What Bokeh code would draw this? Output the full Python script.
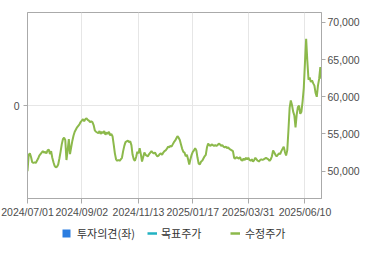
from bokeh.plotting import figure
from bokeh.layouts import column
from bokeh.models import Range1d, LinearAxis, FixedTicker, NumeralTickFormatter, Legend, LegendItem
from bokeh.embed import file_html
from bokeh.resources import INLINE

# adjusted close price (수정주가), one value per trading day 2024/07/01 .. 2025/07
prices = [
    50000, 52200, 52400, 51900, 51200, 51100, 51200, 51100, 51400, 51700,
    52100, 52300, 52500, 52700, 52500, 52600, 52400, 52800, 52900, 52300,
    52700, 51800, 51200, 50700, 50500, 50600, 50900, 51700, 52600, 53600,
    54300, 54500, 54200, 51500, 52800, 54300, 52300, 53200, 54100, 54800,
    55300, 55600, 55900, 56100, 56300, 56600, 56800, 57000, 56700, 57000,
    57100, 56900, 56800, 56600, 56700, 56600, 56200, 55500, 55300, 55200,
    55100, 55400, 55000, 55300, 55100, 55400, 54900, 55200, 55000, 55300,
    54800, 55000, 54700, 53600, 52400, 51600, 51400, 51500, 51400, 51600,
    51800, 52700, 53400, 53900, 54000, 54100, 53900, 54000, 53500, 52200,
    51600, 51400, 51900, 52600, 52400, 53100, 52300, 51300, 51900, 52500,
    52200, 52100, 52000, 52300, 52500, 52700, 52500, 52400, 52500, 52200,
    52000, 52100, 52300, 52400, 52200, 52500, 52700, 52800, 53000, 53300,
    53200, 53400, 53300, 53600, 53900, 54100, 54400, 54700, 54500, 54200,
    53600, 53000, 52600, 52500, 52000, 52200, 51600, 50900, 51600, 52200,
    52600, 52800, 53100, 52800, 51800, 51000, 50900, 51300, 51400, 51700,
    52000, 52200, 53200, 53700, 53500, 53400, 53600, 53500, 53400, 53500,
    53400, 53500, 53700, 53600, 53400, 53500, 53300, 53200, 53300, 53100,
    53200, 53000, 52900, 52800, 52700, 51800, 51700, 51900, 51800, 51700,
    51900, 51500, 51400, 51700, 51500, 51800, 51600, 51800, 51500, 51400,
    51600, 51300, 51500, 51800, 51600, 51400, 51300, 51500, 51600, 51500,
    51600, 51700, 51800, 51700, 51600, 51400, 51600, 52000, 52800, 52500,
    52200, 52000, 52200, 52400, 52300, 52700, 53000, 53300, 52600, 52100,
    52800, 55500, 58500, 59500, 58900, 58000, 57500, 55900, 57600, 58600,
    58800, 57700, 58000, 59400, 61200, 64600, 67800, 64800, 62300, 62600,
    62000, 62200, 61800, 61500, 60500, 60000, 61500, 62400, 64000, 62400,
]

# investment opinion and target price: no values in this period
opinions = [float("nan")]
targets = [float("nan")]

x_ticks = [0, 46, 94, 140, 187, 235]
x_labels = ["2024/07/01", "2024/09/02", "2024/11/13", "2025/01/17", "2025/03/31", "2025/06/10"]
price_ticks = [50000, 55000, 60000, 65000, 70000]
opinion_ticks = [0]
legend_labels = ["투자의견(좌)", "목표주가", "수정주가"]

GREEN = "#8cb94b"
TEAL = "#22b2c2"
BLUE = "#2b7de0"
AXIS = "#aaaaaa"
TXT = "#4d4d4d"
TICK_FONT = "Liberation Sans"
TICK_SIZE = "10.5px"

p = figure(width=370, height=220, output_backend="svg", toolbar_location=None,
           x_range=Range1d(0, len(prices) - 1), y_range=Range1d(-1, 1),
           min_border_left=27, min_border_right=49, min_border_top=12, min_border_bottom=19,
           x_axis_location="below", y_axis_location="left")
p.background_fill_color = "white"
p.border_fill_color = "white"
p.outline_line_color = AXIS
p.outline_line_width = 1

p.extra_y_ranges = {"price": Range1d(46330, 71325)}

# x axis
xa = p.xaxis[0]
xa.ticker = FixedTicker(ticks=x_ticks)
xa.major_label_overrides = {t: l for t, l in zip(x_ticks, x_labels)}
xa.minor_tick_line_color = None
xa.major_tick_out = 5
xa.major_tick_in = 0
xa.axis_line_color = AXIS
xa.major_tick_line_color = AXIS
xa.major_label_text_font = TICK_FONT
xa.major_label_text_font_size = TICK_SIZE
xa.major_label_text_color = TXT
xa.major_label_standoff = 2

# left axis (opinion)
ya = p.yaxis[0]
ya.ticker = FixedTicker(ticks=opinion_ticks)
ya.minor_tick_line_color = None
ya.major_tick_out = 4
ya.major_tick_in = 0
ya.axis_line_color = AXIS
ya.major_tick_line_color = AXIS
ya.major_label_text_font = TICK_FONT
ya.major_label_text_font_size = TICK_SIZE
ya.major_label_text_color = TXT
ya.major_label_standoff = 4

# right axis (price)
ra = LinearAxis(y_range_name="price", ticker=FixedTicker(ticks=price_ticks),
                formatter=NumeralTickFormatter(format="0,0"))
ra.minor_tick_line_color = None
ra.major_tick_out = 4
ra.major_tick_in = 0
ra.axis_line_color = AXIS
ra.major_tick_line_color = AXIS
ra.major_label_text_font = TICK_FONT
ra.major_label_text_font_size = TICK_SIZE
ra.major_label_text_color = TXT
ra.major_label_standoff = 2
p.add_layout(ra, "right")

p.xgrid.grid_line_color = "#e6e6e6"
p.ygrid.grid_line_color = "#e6e6e6"

p.line(x=list(range(len(prices))), y=prices, line_color=GREEN, line_width=2,
       y_range_name="price")

# legend strip below the chart
lp = figure(width=370, height=35, output_backend="svg", toolbar_location=None,
            x_range=Range1d(0, 1), y_range=Range1d(0, 1),
            x_axis_location=None, y_axis_location=None, min_border=0)
lp.outline_line_color = None
lp.grid.visible = False
lp.background_fill_color = "white"
lp.border_fill_color = "white"

r_op = lp.quad(left=opinions, right=opinions, top=opinions, bottom=opinions,
               fill_color=BLUE, line_color=None)
r_tg = lp.line(x=targets, y=targets, line_color=TEAL, line_width=2.5)
r_pr = lp.line(x=targets, y=targets, line_color=GREEN, line_width=2.5)


def add_legend(label, rend, loc, standoff):
    lg = Legend(items=[LegendItem(label=label, renderers=[rend])], location=loc,
                orientation="horizontal", padding=0, margin=0, spacing=0,
                border_line_alpha=0, background_fill_alpha=0,
                glyph_width=10, glyph_height=10, label_height=10, label_standoff=standoff,
                label_text_font="Noto Sans CJK KR", label_text_font_size="11px",
                label_text_color="#333333")
    lp.add_layout(lg)


add_legend(legend_labels[0], r_op, (34, 14), 6)
add_legend(legend_labels[1], r_tg, (120, 14), 4)
add_legend(legend_labels[2], r_pr, (203, 14), 5)

layout = column(p, lp, spacing=0)
open("out.html", "w").write(file_html(layout, INLINE))
